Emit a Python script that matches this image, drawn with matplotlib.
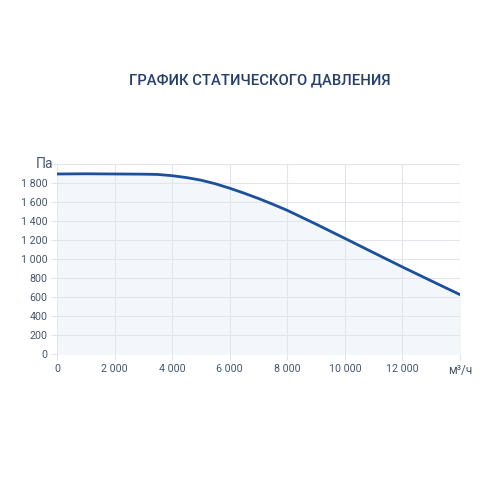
import matplotlib
matplotlib.use('Agg')
import matplotlib.pyplot as plt

plt.rcParams['font.family'] = ['Roboto', 'DejaVu Sans']

# Данные кривой (расход м³/ч, давление Па)
flow = [0, 1000, 2000, 3000, 3500, 4000, 4500, 5000, 5500, 6000, 6500, 7000,
        7500, 8000, 9000, 10000, 11000, 12000, 13000, 14000]
pressure = [1895, 1897, 1895, 1893, 1890, 1877, 1857, 1830, 1792, 1745, 1693, 1637,
            1576, 1512, 1367, 1217, 1066, 916, 770, 625]

x_ticks = [0, 2000, 4000, 6000, 8000, 10000, 12000]
y_ticks = [0, 200, 400, 600, 800, 1000, 1200, 1400, 1600, 1800]

line_color = '#1c4f9c'
text_color = '#44566f'
grid_color = '#e2e5ec'


def fmt(v):
    return f"{v:,}".replace(',', ' ')


fig = plt.figure(figsize=(5, 5), dpi=100)
fig.patch.set_facecolor('white')
ax = fig.add_axes([0.114, 0.292, 0.806, 0.38])

ax.fill_between(flow, pressure, 0, color='#f3f6fb', zorder=1)
ax.plot(flow, pressure, color=line_color, lw=2, zorder=3)

ax.set_xlim(0, 14000)
ax.set_ylim(0, 2000)
ax.set_xticks(x_ticks + [14000])
ax.set_xticklabels([fmt(v) for v in x_ticks] + [''])
ax.set_yticks(y_ticks + [2000])
ax.set_yticklabels([fmt(v) for v in y_ticks] + [''])
ax.grid(True, color=grid_color, lw=0.8, zorder=0)
ax.tick_params(length=4, color=grid_color, labelsize=7.7, labelcolor=text_color, pad=3)
for s in ax.spines.values():
    s.set_visible(False)
ax.set_facecolor('white')

ax.text(-0.01, 2000, 'Па', ha='right', va='center', fontsize=10, color=text_color,
        transform=ax.get_yaxis_transform())
ax.text(14000, -0.055, 'м³/ч', ha='center', va='top', fontsize=8.5, color=text_color,
        transform=ax.get_xaxis_transform())

fig.text(0.52, 0.84, 'ГРАФИК СТАТИЧЕСКОГО ДАВЛЕНИЯ', ha='center', va='center',
         fontsize=10.6, color='#24406b', fontweight='medium')

fig.savefig('out.png', dpi=100)
